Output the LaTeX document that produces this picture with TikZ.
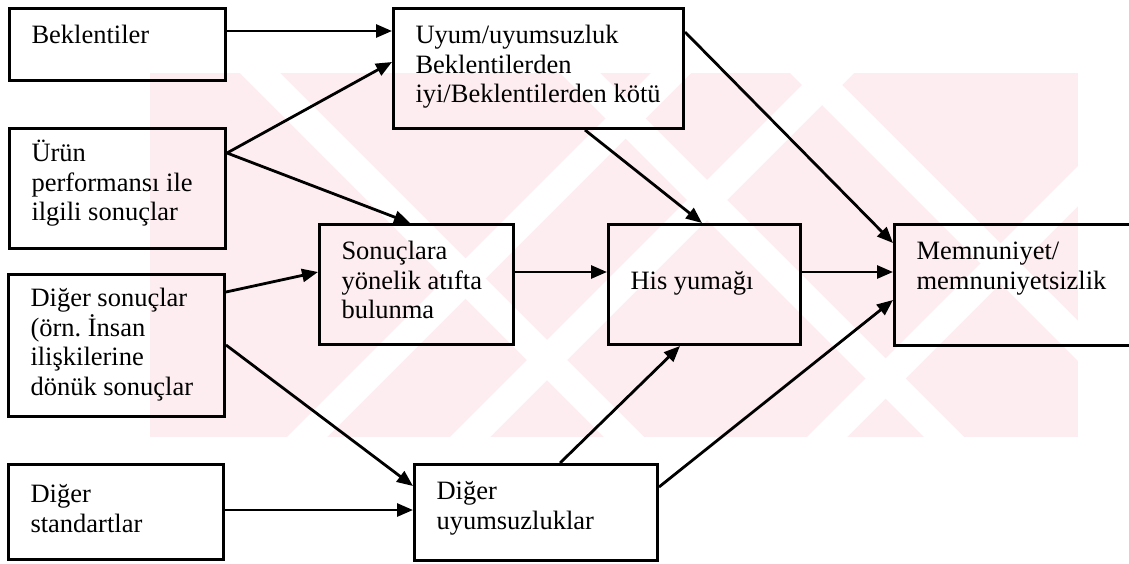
\documentclass[tikz,border=0pt]{standalone}
\usepackage{fontspec}
\setmainfont{Liberation Serif}
\usetikzlibrary{arrows.meta}

\definecolor{filigran}{RGB}{253,237,240}

% kutu icindeki metin: genislik, yukseklik, ilk satir payi, metin
\newcommand{\kutuyazi}[4]{\parbox[c][#2pt][t]{#1pt}{\raggedright\rule{0pt}{#3pt}#4}}

\tikzset{
  kutu/.style={draw, line width=3pt, anchor=north west, inner sep=0pt,
    font=\fontsize{26.5pt}{29.5pt}\selectfont},
  ok/.style={line width=2.8pt, -{Triangle[length=16pt,width=13pt]}},
}

\begin{document}
\begin{tikzpicture}[x=1pt, y=-1pt]
    \useasboundingbox (0,0) rectangle (1129,563);
    % Filigran
    \fill[filigran] (150,73) rectangle (1078,437);
    \begin{scope}
      \clip (150,73) rectangle (1078,437);
      \foreach \x in {240, 560, 790} {
        \fill[white] (\x,73) -- ++(40,0) -- ++(364,364) -- ++(-40,0) -- cycle;
      }
      \foreach \x in {287, 450, 807} {
        \fill[white] (\x,437) -- ++(40,0) -- ++(364,-364) -- ++(-40,0) -- cycle;
      }
    \end{scope}
    % Kutular
    \node[kutu, minimum width=216pt, minimum height=72pt] (bek) at (8,7)
      {\kutuyazi{172}{72}{35}{Beklentiler}};
    \node[kutu, minimum width=216pt, minimum height=120pt] (urun) at (8,127)
      {\kutuyazi{172}{120}{33}{Ürün\\ performansı~ile\\ ilgili~sonuçlar}};
    \node[kutu, minimum width=216pt, minimum height=142pt] (digsonuc) at (7,273)
      {\kutuyazi{172}{142}{32}{Diğer~sonuçlar\\ (örn.~İnsan\\ ilişkilerine\\ dönük~sonuçlar}};
    \node[kutu, minimum width=215pt, minimum height=95pt] (digstd) at (7,463)
      {\kutuyazi{171}{95}{38}{Diğer\\ standartlar}};
    \node[kutu, minimum width=290pt, minimum height=120pt] (uyum) at (392,7)
      {\kutuyazi{246}{120}{35}{Uyum/uyumsuzluk\\ Beklentilerden\\ iyi/Beklentilerden~kötü}};
    \node[kutu, minimum width=194pt, minimum height=120pt] (sonuc) at (318,223)
      {\kutuyazi{150}{120}{35}{Sonuçlara\\ yönelik~atıfta\\ bulunma}};
    \node[kutu, minimum width=192pt, minimum height=120pt] (his) at (607,223)
      {\kutuyazi{148}{120}{65}{His~yumağı}};
    \node[kutu, minimum width=260pt, minimum height=121pt] (memnun) at (893,223)
      {\kutuyazi{216}{121}{35}{Memnuniyet/\\ memnuniyetsizlik}};
    \node[kutu, minimum width=243pt, minimum height=96pt] (diguyum) at (413,463)
      {\kutuyazi{199}{96}{35}{Diğer\\ uyumsuzluklar}};
    % Oklar
    \draw[ok] ([shift={(0,24)}]bek.north east) -- ([shift={(0,24)}]uyum.north west);
    \draw[ok] ([shift={(0,26)}]urun.north east) -- ([shift={(0,55)}]uyum.north west);
    \draw[ok] ([shift={(0,26)}]urun.north east) -- ([shift={(92,0)}]sonuc.north west);
    \draw[ok] ([shift={(0,19)}]digsonuc.north east) -- ([shift={(0,49)}]sonuc.north west);
    \draw[ok] ([shift={(0,72)}]digsonuc.north east) -- ([shift={(0,23)}]diguyum.north west);
    \draw[ok] ([shift={(0,47)}]digstd.north east) -- ([shift={(0,47)}]diguyum.north west);
    \draw[ok] ([shift={(193,0)}]uyum.south west) -- ([shift={(95,0)}]his.north west);
    \draw[ok] ([shift={(0,25)}]uyum.north east) -- ([shift={(0,20)}]memnun.north west);
    \draw[ok] ([shift={(0,49)}]sonuc.north east) -- ([shift={(0,49)}]his.north west);
    \draw[ok] ([shift={(0,49)}]his.north east) -- ([shift={(0,49)}]memnun.north west);
    \draw[ok] ([shift={(147,0)}]diguyum.north west) -- ([shift={(73,0)}]his.south west);
    \draw[ok] ([shift={(0,24)}]diguyum.north east) -- ([shift={(0,77)}]memnun.north west);
\end{tikzpicture}
\end{document}
